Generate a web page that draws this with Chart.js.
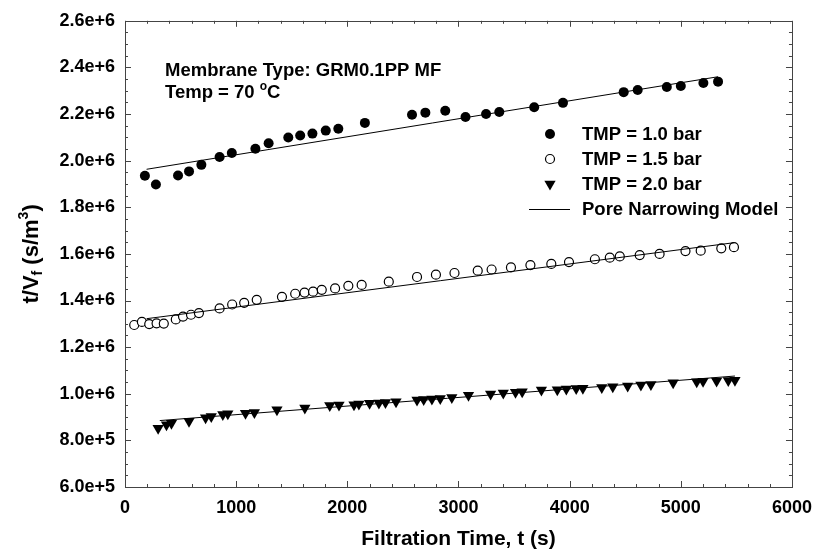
<!DOCTYPE html>
<html>
<head>
<meta charset="utf-8">
<script src="https://cdn.jsdelivr.net/npm/chart.js@4.4.1/dist/chart.umd.min.js"></script>
<style>
body { margin: 0; background: #fff; }
#wrap { width: 822px; height: 560px; position: relative; }
</style>
</head>
<body>
<div id="wrap"><canvas id="myChart"></canvas></div>
<script>
// filtration time (s) and t/Vf (s/m3) for each TMP
const timeTmp10 = [179, 278, 477, 576, 687, 851, 961, 1173, 1292, 1469, 1576, 1686, 1806, 1919, 2158, 2582, 2702, 2881, 3063, 3248, 3367, 3681, 3940, 4486, 4612, 4874, 5000, 5203, 5335];
const ratioTmp10 = [1935000, 1898000, 1936000, 1954000, 1982000, 2016000, 2033000, 2051000, 2075000, 2099000, 2108000, 2116000, 2129000, 2137000, 2162000, 2197000, 2206000, 2214000, 2187000, 2200000, 2209000, 2229000, 2248000, 2294000, 2303000, 2316000, 2320000, 2333000, 2339000];

const timeTmp15 = [83, 152, 218, 284, 349, 457, 522, 594, 665, 851, 964, 1072, 1185, 1412, 1531, 1615, 1692, 1770, 1890, 2009, 2129, 2373, 2627, 2797, 2964, 3173, 3298, 3472, 3647, 3835, 3994, 4227, 4361, 4451, 4630, 4809, 5042, 5179, 5364, 5478];
const ratioTmp15 = [1295000, 1308000, 1299000, 1302000, 1301000, 1319000, 1331000, 1339000, 1346000, 1366000, 1383000, 1390000, 1403000, 1416000, 1429000, 1434000, 1438000, 1446000, 1452000, 1463000, 1467000, 1481000, 1501000, 1511000, 1518000, 1528000, 1533000, 1542000, 1552000, 1557000, 1565000, 1577000, 1584000, 1589000, 1595000, 1600000, 1612000, 1614000, 1624000, 1629000];

const timeTmp20 = [298, 373, 418, 576, 725, 776, 880, 925, 1084, 1164, 1367, 1618, 1842, 1925, 2060, 2104, 2200, 2284, 2343, 2438, 2627, 2687, 2761, 2836, 2940, 3090, 3289, 3403, 3513, 3573, 3746, 3889, 3970, 4059, 4119, 4289, 4388, 4522, 4641, 4731, 4931, 5143, 5200, 5322, 5427, 5487];
const ratioTmp20 = [852000, 867000, 874000, 882000, 897000, 902000, 911000, 914000, 916000, 920000, 931000, 939000, 950000, 952000, 953000, 956000, 959000, 960000, 962000, 966000, 973000, 975000, 977000, 980000, 984000, 994000, 999000, 1003000, 1006000, 1009000, 1016000, 1017000, 1020000, 1023000, 1024000, 1027000, 1030000, 1033000, 1038000, 1040000, 1047000, 1052000, 1054000, 1055000, 1057000, 1058000];

// pore narrowing model lines (end points)
const fitTime10 = [194, 5335];
const fitRatio10 = [1963000, 2360000];
const fitTime15 = [194, 5478];
const fitRatio15 = [1322000, 1648000];
const fitTime20 = [313, 5487];
const fitRatio20 = [885000, 1076000];

const xTicks = [0, 1000, 2000, 3000, 4000, 5000, 6000];
const yTicks = [600000, 800000, 1000000, 1200000, 1400000, 1600000, 1800000, 2000000, 2200000, 2400000, 2600000];

const legendNames = ['TMP = 1.0 bar', 'TMP = 1.5 bar', 'TMP = 2.0 bar', 'Pore Narrowing Model'];

const FONT = '"Liberation Sans", Arial, Helvetica, sans-serif';
function boldFont(size) { return 'bold ' + size + 'px ' + FONT; }

function toPoints(xs, ys) {
    let pts = new Array();
    for (let i = 0; i < xs.length; i++) {
        pts.push({ x: xs[i], y: ys[i] });
    }
    return pts;
}

function fitDataset(xs, ys) {
    return {
        type: 'line',
        data: toPoints(xs, ys),
        borderColor: '#000',
        borderWidth: 1,
        pointRadius: 0,
        fill: false
    };
}

// draws a run of text pieces with different sizes / offsets
function drawPieces(ctx, pieces, x, y, align) {
    let total = 0;
    for (const p of pieces) {
        ctx.font = boldFont(p.s);
        p.w = ctx.measureText(p.t).width;
        total += p.w;
    }
    let cx = align == 'center' ? x - total / 2 : x;
    ctx.textAlign = 'left';
    for (const p of pieces) {
        ctx.font = boldFont(p.s);
        ctx.fillText(p.t, cx, y + (p.dy || 0));
        cx += p.w;
    }
}

function drawMarker(ctx, kind, x, y) {
    ctx.beginPath();
    if (kind == 'filled' || kind == 'open') {
        ctx.arc(x, y, kind == 'filled' ? 5 : 4.5, 0, Math.PI * 2);
    } else {
        const r = 6.5;
        ctx.moveTo(x, y + r);
        ctx.lineTo(x - r * Math.sin(Math.PI / 3), y - r / 2);
        ctx.lineTo(x + r * Math.sin(Math.PI / 3), y - r / 2);
        ctx.closePath();
    }
    if (kind == 'open') {
        ctx.fillStyle = '#fff';
        ctx.fill();
        ctx.lineWidth = 1.2;
        ctx.strokeStyle = '#000';
        ctx.stroke();
    } else {
        ctx.fillStyle = '#000';
        ctx.fill();
    }
}

const framePlugin = {
    id: 'frame',
    afterDraw(chart) {
        const ctx = chart.ctx;
        const a = chart.chartArea;
        const xs = chart.scales.x;
        const ys = chart.scales.y;
        ctx.save();

        // box
        ctx.strokeStyle = '#444';
        ctx.lineWidth = 1;
        ctx.strokeRect(Math.round(a.left) + 0.5, Math.round(a.top) + 0.5, Math.round(a.right - a.left), Math.round(a.bottom - a.top));

        // inward ticks on all four sides
        ctx.beginPath();
        for (let v = xTicks[0]; v <= xTicks[xTicks.length - 1]; v += 200) {
            const px = Math.round(xs.getPixelForValue(v)) + 0.5;
            const len = v % 1000 == 0 ? 6 : 3;
            ctx.moveTo(px, a.bottom); ctx.lineTo(px, a.bottom - len);
            ctx.moveTo(px, a.top); ctx.lineTo(px, a.top + len);
        }
        for (let v = yTicks[0]; v <= yTicks[yTicks.length - 1]; v += 50000) {
            const py = Math.round(ys.getPixelForValue(v)) + 0.5;
            const len = (v - yTicks[0]) % 200000 == 0 ? 6 : 3;
            ctx.moveTo(a.left, py); ctx.lineTo(a.left + len, py);
            ctx.moveTo(a.right, py); ctx.lineTo(a.right - len, py);
        }
        ctx.stroke();

        ctx.fillStyle = '#000';
        ctx.textBaseline = 'alphabetic';

        // axis titles
        ctx.font = boldFont(21);
        ctx.textAlign = 'center';
        ctx.fillText('Filtration Time, t (s)', (a.left + a.right) / 2, 545);

        ctx.save();
        ctx.translate(38, (a.top + a.bottom) / 2);
        ctx.rotate(-Math.PI / 2);
        drawPieces(ctx, [
            { t: 't/V', s: 22 },
            { t: 'f', s: 14, dy: 4 },
            { t: ' (s/m', s: 22 },
            { t: '3', s: 14, dy: -10 },
            { t: ')', s: 22 }
        ], 0, 0, 'center');
        ctx.restore();

        // annotation
        ctx.fillStyle = '#000';
        ctx.font = boldFont(18.5);
        ctx.textAlign = 'left';
        ctx.fillText('Membrane Type: GRM0.1PP MF', 165, 76);
        drawPieces(ctx, [
            { t: 'Temp = 70 ', s: 18.5 },
            { t: 'o', s: 12, dy: -8 },
            { t: 'C', s: 18.5 }
        ], 165, 98, 'left');

        // legend
        const rows = [134, 159, 184, 209];
        const kinds = ['filled', 'open', 'triangle'];
        for (let i = 0; i < 3; i++) {
            drawMarker(ctx, kinds[i], 550, rows[i]);
        }
        ctx.beginPath();
        ctx.strokeStyle = '#000';
        ctx.lineWidth = 1;
        ctx.moveTo(529, rows[3] + 0.5);
        ctx.lineTo(570, rows[3] + 0.5);
        ctx.stroke();

        ctx.fillStyle = '#000';
        ctx.font = boldFont(18.5);
        ctx.textAlign = 'left';
        ctx.textBaseline = 'middle';
        for (let i = 0; i < legendNames.length; i++) {
            ctx.fillText(legendNames[i], 582, rows[i] + 1);
        }
        ctx.restore();
    }
};

var ctx = document.getElementById('myChart').getContext('2d');
var myChart = new Chart(ctx, {
    type: 'scatter',
    data: {
        datasets: [
            fitDataset(fitTime10, fitRatio10),
            fitDataset(fitTime15, fitRatio15),
            fitDataset(fitTime20, fitRatio20),
            {
                label: legendNames[0],
                data: toPoints(timeTmp10, ratioTmp10),
                pointStyle: 'circle',
                pointRadius: 5,
                backgroundColor: '#000',
                borderColor: '#000',
                borderWidth: 0
            },
            {
                label: legendNames[1],
                data: toPoints(timeTmp15, ratioTmp15),
                pointStyle: 'circle',
                pointRadius: 4.5,
                backgroundColor: '#fff',
                borderColor: '#000',
                borderWidth: 1.2
            },
            {
                label: legendNames[2],
                data: toPoints(timeTmp20, ratioTmp20),
                pointStyle: 'triangle',
                rotation: 180,
                pointRadius: 6.5,
                backgroundColor: '#000',
                borderColor: '#000',
                borderWidth: 0
            }
        ]
    },
    options: {
        responsive: true,
        maintainAspectRatio: false,
        animation: false,
        events: [],
        layout: { padding: { top: 17, right: 25, left: 0, bottom: 0 } },
        plugins: {
            legend: { display: false },
            tooltip: { enabled: false }
        },
        scales: {
            x: {
                type: 'linear',
                min: xTicks[0],
                max: xTicks[xTicks.length - 1],
                grid: { display: false, drawTicks: false },
                border: { display: false },
                afterBuildTicks: function (scale) {
                    scale.ticks = xTicks.map(v => ({ value: v }));
                },
                afterFit: function (scale) { scale.height = 73; },
                ticks: {
                    color: '#000',
                    font: { family: FONT, size: 18, weight: 'bold' },
                    padding: 10,
                    maxRotation: 0,
                    callback: value => String(value)
                }
            },
            y: {
                type: 'linear',
                min: yTicks[0],
                max: yTicks[yTicks.length - 1],
                grid: { display: false, drawTicks: false },
                border: { display: false },
                afterBuildTicks: function (scale) {
                    scale.ticks = yTicks.map(v => ({ value: v }));
                },
                afterFit: function (scale) { scale.width = 125; },
                ticks: {
                    color: '#000',
                    font: { family: FONT, size: 18, weight: 'bold' },
                    padding: 10,
                    callback: value => Number(value).toExponential(1)
                }
            }
        }
    },
    plugins: [framePlugin]
});
</script>
</body>
</html>
